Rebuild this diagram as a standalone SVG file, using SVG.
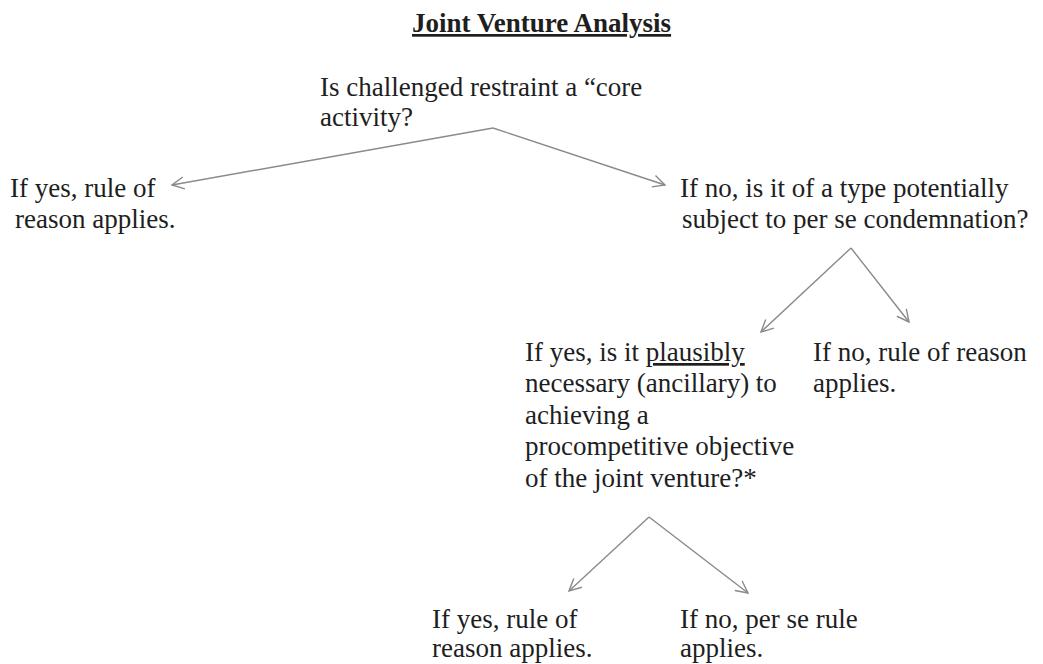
<svg xmlns="http://www.w3.org/2000/svg" width="1043" height="664" viewBox="0 0 1043 664">
<style>
text{font-family:"Liberation Serif","Times New Roman",serif;font-size:27px;fill:#1e1e1e}
.title{font-weight:bold;text-decoration:underline}
.u{text-decoration:underline}
.conn{stroke:#8a8a8a;stroke-width:1.4;fill:none;marker-end:url(#arr)}
</style>
<defs>
<marker id="arr" viewBox="0 0 14 14" refX="13" refY="7" markerWidth="14" markerHeight="14" markerUnits="userSpaceOnUse" orient="auto">
<path d="M1 1 L13 7 L1 13" fill="none" stroke="#8a8a8a" stroke-width="1.4"/>
</marker>
</defs>
<rect width="1043" height="664" fill="#ffffff"/>
<g id="title"><text class="title" x="412" y="32">Joint Venture Analysis</text></g>
<g id="connectors">
<path class="conn" d="M493 128 L172 185"/>
<path class="conn" d="M493 128 L665 185"/>
<path class="conn" d="M851 248 L761 332"/>
<path class="conn" d="M851 248 L909 322"/>
<path class="conn" d="M649 517 L569 591"/>
<path class="conn" d="M649 517 L748 593"/>
</g>
<g id="q1"><text x="320" y="96">Is challenged restraint a “core</text><text x="320" y="126">activity?</text></g>
<g id="yes1"><text x="10" y="197">If yes, rule of</text><text x="15" y="228">reason applies.</text></g>
<g id="q2"><text x="680" y="197">If no, is it of a type potentially</text><text x="682" y="228">subject to per se condemnation?</text></g>
<g id="q3"><text x="525" y="361">If yes, is it <tspan class="u">plausibly</tspan></text><text x="525" y="392">necessary (ancillary) to</text><text x="525" y="424">achieving a</text><text x="525" y="455">procompetitive objective</text><text x="525" y="487">of the joint venture?*</text></g>
<g id="no2"><text x="813" y="361">If no, rule of reason</text><text x="813" y="392">applies.</text></g>
<g id="yes3"><text x="432" y="628">If yes, rule of</text><text x="432" y="657">reason applies.</text></g>
<g id="no3"><text x="680" y="628">If no, per se rule</text><text x="680" y="657">applies.</text></g>
</svg>
